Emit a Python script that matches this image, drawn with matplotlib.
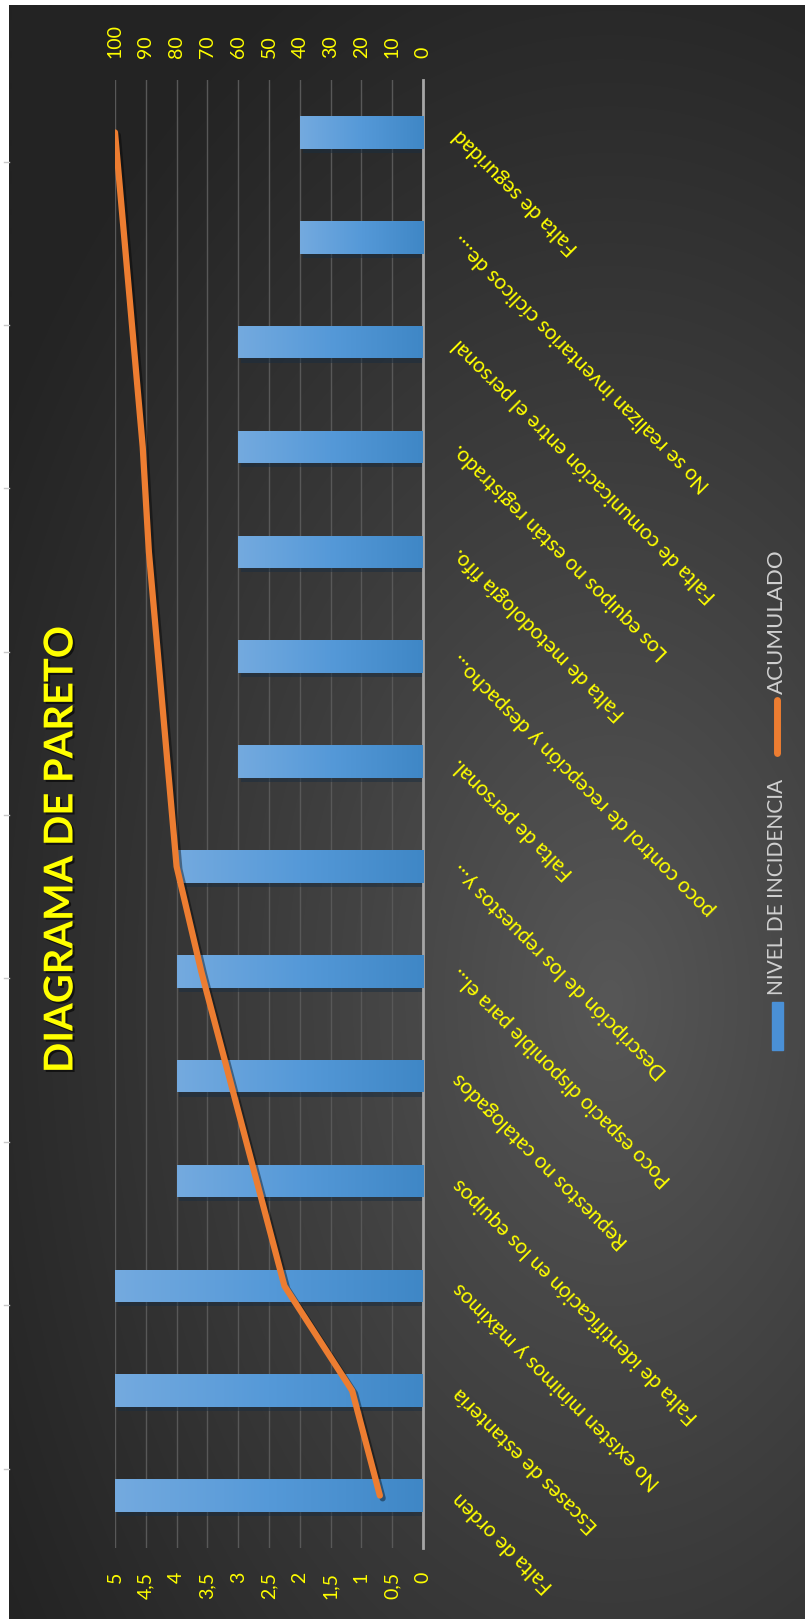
import numpy as np
import matplotlib
matplotlib.use("Agg")
import matplotlib.pyplot as plt
from matplotlib import patheffects, transforms
from matplotlib.patches import Rectangle
from matplotlib.lines import Line2D
from matplotlib.colors import LinearSegmentedColormap

# Datos del diagrama (de abajo hacia arriba)
categorias = [
    "Falta de orden",
    "Escases de estantería",
    "No existen mínimos y máximos",
    "Falta de identificación en los equipos",
    "Repuestos no catalogados",
    "Poco espacio disponible para el...",
    "Descripción de los repuestos y...",
    "Falta de personal.",
    "poco control de recepción y despacho...",
    "Falta de metodología fifo.",
    "Los equipos no están registrado.",
    "Falta de comunicación entre el personal",
    "No se realizan inventarios cíclicos de....",
    "Falta de seguridad",
]
incidencia = [5, 5, 5, 4, 4, 4, 4, 3, 3, 3, 3, 3, 2, 2]
acumulado = [14, 23, 45, 54, 63, 72, 80, 83, 86, 89, 91, 94, 97, 100]

ticks_prim = [0, 0.5, 1, 1.5, 2, 2.5, 3, 3.5, 4, 4.5, 5]
etiq_prim = ["0", "0,5", "1", "1,5", "2", "2,5", "3", "3,5", "4", "4,5", "5"]
ticks_sec = [0, 10, 20, 30, 40, 50, 60, 70, 80, 90, 100]

AMARILLO = "#ffff00"
NARANJA = "#ed7d31"
W, H = 805, 1619

plt.rcParams['font.family'] = ['Lato', 'DejaVu Sans']
fig = plt.figure(figsize=(W / 100, H / 100), dpi=100)
fig.patch.set_facecolor("white")

# Fondo oscuro con degradado radial
bg = fig.add_axes([9 / W, 0, (W - 9) / W, (H - 5) / H], zorder=-5)
yy, xx = np.mgrid[0:H - 5, 0:W - 9]
r = np.sqrt(((xx - 600) / 720.0) ** 2 + ((yy - 995) / 1150.0) ** 2)
t = np.clip(1 - r, 0, 1) ** 1.1
oscuro = np.array([0x23, 0x23, 0x23]) / 255
claro = np.array([0x57, 0x57, 0x57]) / 255
bg.imshow(oscuro + (claro - oscuro) * t[..., None], aspect="auto", origin="upper")
bg.axis("off")

# Eje principal (barras)
ax = fig.add_axes([115 / W, (H - 1548) / H, 308 / W, 1468 / H])
ax.patch.set_alpha(0)
pos = np.arange(len(categorias))
barras = ax.barh(pos, incidencia, height=0.31, color="#5296d5", zorder=2,
                 path_effects=[patheffects.SimplePatchShadow(offset=(2, -3), alpha=0.5),
                               patheffects.Normal()])

cmap = LinearSegmentedColormap.from_list("azul", ["#74aadf", "#5599d8", "#3f87c6"])
grad = np.linspace(0, 1, 256).reshape(1, -1)
for b in barras:
    x0, w, y0, h = b.get_x(), b.get_width(), b.get_y(), b.get_height()
    im = ax.imshow(grad, extent=(x0 + w, x0, y0, y0 + h), cmap=cmap,
                   aspect="auto", zorder=3)
    im.set_clip_path(b)

ax.set_xlim(5, 0)
ax.set_ylim(-0.5, len(categorias) - 0.5)
ax.set_xticks(ticks_prim)
ax.set_xticklabels(etiq_prim, rotation=90, color=AMARILLO, fontsize=14)
ax.tick_params(axis="x", length=0, pad=17)
ax.set_yticks([])
ax.grid(axis="x", color="#585858", lw=1)
ax.set_axisbelow(True)
for s in ["left", "top", "bottom"]:
    ax.spines[s].set_visible(False)
ax.spines["right"].set_color("#a6a6a6")
ax.spines["right"].set_linewidth(2)

# Etiquetas de categorias giradas
trans = transforms.offset_copy(ax.get_yaxis_transform(), fig=fig, x=33, y=0, units="dots")
for i, c in enumerate(categorias):
    ax.text(1, i, c, transform=trans, rotation=135, rotation_mode="anchor",
            ha="right", va="center", color=AMARILLO, fontsize=15, clip_on=False)

# Eje secundario (acumulado)
ax2 = ax.twiny()
ax2.set_xlim(100, 0)
ax2.set_xticks(ticks_sec)
ax2.set_xticklabels([str(v) for v in ticks_sec], rotation=90, color=AMARILLO, fontsize=14)
ax2.tick_params(axis="x", length=0, pad=16)
for s in ax2.spines.values():
    s.set_visible(False)
ax2.plot(acumulado, pos, color=NARANJA, lw=4.5, solid_capstyle="round",
         solid_joinstyle="round", zorder=5,
         path_effects=[patheffects.SimpleLineShadow(offset=(2, -2), alpha=0.4),
                       patheffects.Normal()])

# Titulo
fig.text(61 / W, 1 - 849 / H, "DIAGRAMA DE PARETO", rotation=90, ha="center", va="center",
         fontsize=28.7, fontweight="bold", color=AMARILLO,
         path_effects=[patheffects.withSimplePatchShadow(offset=(1.5, -1.5),
                                                         shadow_rgbFace="black", alpha=0.6)])

# Leyenda
fig.add_artist(Rectangle((772 / W, 1 - 1050 / H), 11 / W, 48 / H,
                         transform=fig.transFigure, color="#4a90d6"))
fig.text(777 / W, 1 - 995 / H, "NIVEL DE INCIDENCIA", rotation=90, ha="center", va="bottom",
         color="#d0d0d0", fontsize=15)
fig.add_artist(Line2D([777 / W, 777 / W], [1 - 753 / H, 1 - 700 / H], transform=fig.transFigure,
                      color=NARANJA, lw=5, solid_capstyle="round"))
fig.text(777 / W, 1 - 694 / H, "ACUMULADO", rotation=90, ha="center", va="bottom",
         color="#d0d0d0", fontsize=16)

# marcas de la hoja en el borde izquierdo
for ym in [162, 325, 488, 652, 815, 978, 1142, 1305, 1469]:
    fig.add_artist(Line2D([4 / W, 9 / W], [1 - ym / H] * 2, transform=fig.transFigure,
                          color="#c8c8c8", lw=1))

fig.savefig("out.png", dpi=100)
